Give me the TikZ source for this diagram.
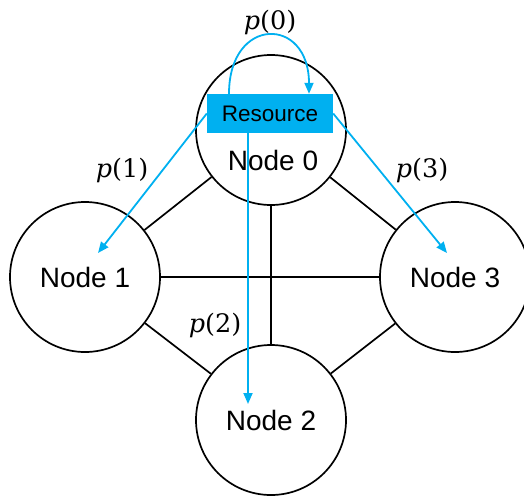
\documentclass[tikz,border=0pt]{standalone}
\usepackage{fontspec}
\setmainfont{Liberation Sans}
\newfontfamily\plfont{DejaVu Serif}
\usetikzlibrary{arrows.meta}
\definecolor{resblue}{HTML}{00B0F0}
\newcommand{\plab}[1]{{\itshape p}(#1)}
\begin{document}
\begin{tikzpicture}[x=1pt,y=-1pt,
  nodecirc/.style={circle,draw=black,line width=1.7pt,minimum size=150pt,inner sep=0pt,
    font=\fontsize{28}{30}\selectfont},
  nodetext/.style={font=\fontsize{28}{30}\selectfont,inner sep=0pt},
  edge/.style={draw=black,line width=1.7pt},
  resbox/.style={rectangle,fill=resblue,minimum width=126pt,minimum height=39pt,inner sep=0pt,
    font=\fontsize{22.5}{26}\selectfont},
  blu/.style={draw=resblue,line width=1.8pt,-{Triangle[length=11pt,width=9pt]}},
  plabel/.style={font=\plfont\fontsize{25.5}{30}\selectfont,inner sep=0pt}]
\useasboundingbox (0,0) rectangle (524,498);
% circles
\node[nodecirc] (n0) at (271,130) {};
\node[nodecirc] (n1) at (85,277) {Node 1};
\node[nodecirc] (n2) at (271,420) {Node 2};
\node[nodecirc] (n3) at (455,277) {Node 3};
\node[nodetext] (n0t) at (273,160) {Node 0};
% black edges
\draw[edge] (n0) -- (n1);
\draw[edge] (n0) -- (n3);
\draw[edge] (n0) -- (n2);
\draw[edge] (n1) -- (n3);
\draw[edge] (n1) -- (n2);
\draw[edge] (n2) -- (n3);
% resource
\node[resbox] (res) at (270,113.5) {Resource};
% arrow tips
\coordinate (t1) at (98,253);
\coordinate (t3) at (447,253);
\coordinate (t2) at (248,404);
\coordinate (l0a) at (229,94);
\coordinate (l0b) at (309,94);
\draw[blu] (res.west) -- (t1);
\draw[blu] (res.east) -- (t3);
\draw[blu] (res.south -| t2) -- (t2);
\draw[blu] (res.north -| l0a) .. controls +(0,-78) and +(0,-78) .. (res.north -| l0b);
% labels
\node[plabel] (p0) at (270,22) {\plab{0}};
\node[plabel] (p1) at (122,170) {\plab{1}};
\node[plabel] (p2) at (215,325) {\plab{2}};
\node[plabel] (p3) at (422,170) {\plab{3}};
\end{tikzpicture}
\end{document}
